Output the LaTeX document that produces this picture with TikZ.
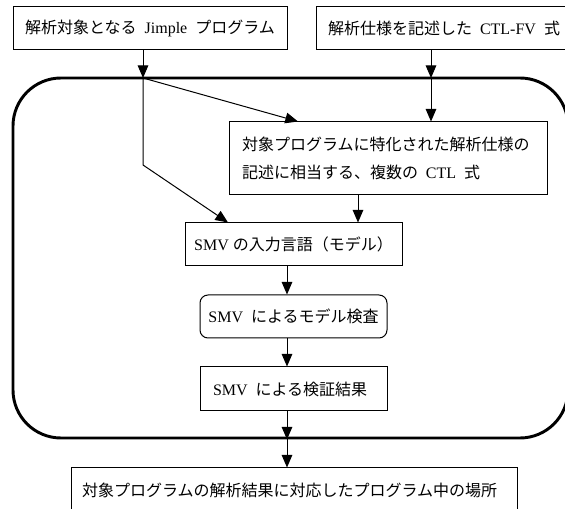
\documentclass[tikz,border=0pt]{standalone}
\usepackage{fontspec}
\setmainfont{Liberation Serif}
\newfontfamily\jp{Noto Sans CJK JP}
\usetikzlibrary{arrows.meta}
\newcommand\gp{\hspace{6pt}}
\begin{document}
\begin{tikzpicture}[x=0.75pt,y=-0.75pt,
  box/.style={draw, line width=0.75pt, inner sep=0pt, font=\fontsize{12}{21}\selectfont},
  arr/.style={line width=0.75pt, -{Triangle[length=9.5pt,width=8pt]}},
  framebox/.style={draw, line width=2.2pt, rounded corners=36pt, inner sep=0pt}]
\useasboundingbox (0,0) rectangle (565,509);
\clip (0,0) rectangle (565,509);
% frame
\node[framebox, minimum width=416.25pt, minimum height=270pt] (frame) at (290.5,258) {};
% boxes
\node[box, minimum width=205.5pt, minimum height=32.25pt] (b1) at (150,28.5)
  {{\jp 解析対象となる}\gp Jimple\gp{\jp プログラム}};
\node[box, minimum height=32.25pt, inner xsep=9pt, text width=195pt, align=left] (b2) at (458,28.5)
  {{\jp 解析仕様を記述した}\gp CTL-FV\gp{\jp 式}};
\node[box, minimum height=54.75pt, inner xsep=9.75pt, text width=219pt, align=left] (b3) at (388,158.5)
  {{\jp 対象プログラムに特化された解析仕様の}\\{\jp 記述に相当する、複数の}\gp CTL\gp{\jp 式}};
\node[box, minimum width=162.75pt, minimum height=32.25pt] (b4) at (293.5,244.5)
  {SMV\ {\jp の入力言語（モデル）}};
\node[box, rounded corners=6pt, minimum width=140.25pt, minimum height=32.25pt] (b5) at (293.5,316.5)
  {SMV\gp{\jp によるモデル検査}};
\node[box, minimum height=33pt, inner xsep=9.75pt, text width=120.75pt, align=left] (b6) at (293.5,389)
  {SMV\gp{\jp による検証結果}};
\node[box, minimum height=33pt, inner xsep=8.25pt, text width=318pt, align=left] (b7) at (294,490)
  {{\jp 対象プログラムの解析結果に対応したプログラム中の場所}};
% junctions
\coordinate (j1) at (143,78);
\coordinate (j2) at (431,78);
\coordinate (bend) at (143,165);
\coordinate (col) at (287,0);
\coordinate (c3) at ([xshift=-22.5pt]b3.south);
% connectors
\draw[arr] (b1.south -| j1) -- (j1);
\draw[arr] (b2.south -| j2) -- (j2);
\draw[arr] (j2) -- (b3.north -| j2);
\draw[arr] (j1) -- ([xshift=-67.5pt]b3.north);
\draw[arr] (j1) -- (bend) -- ([xshift=-49.1pt]b4.north);
\draw[arr] (c3) -- (c3 |- b4.north);
\draw[arr] (b4.south -| col) -- (b5.north -| col);
\draw[arr] (b5.south -| col) -- (b6.north -| col);
\draw[arr] (b6.south -| col) -- (frame.south -| col);
\draw[arr] (frame.south -| col) -- (b7.north -| col);
\end{tikzpicture}
\end{document}
